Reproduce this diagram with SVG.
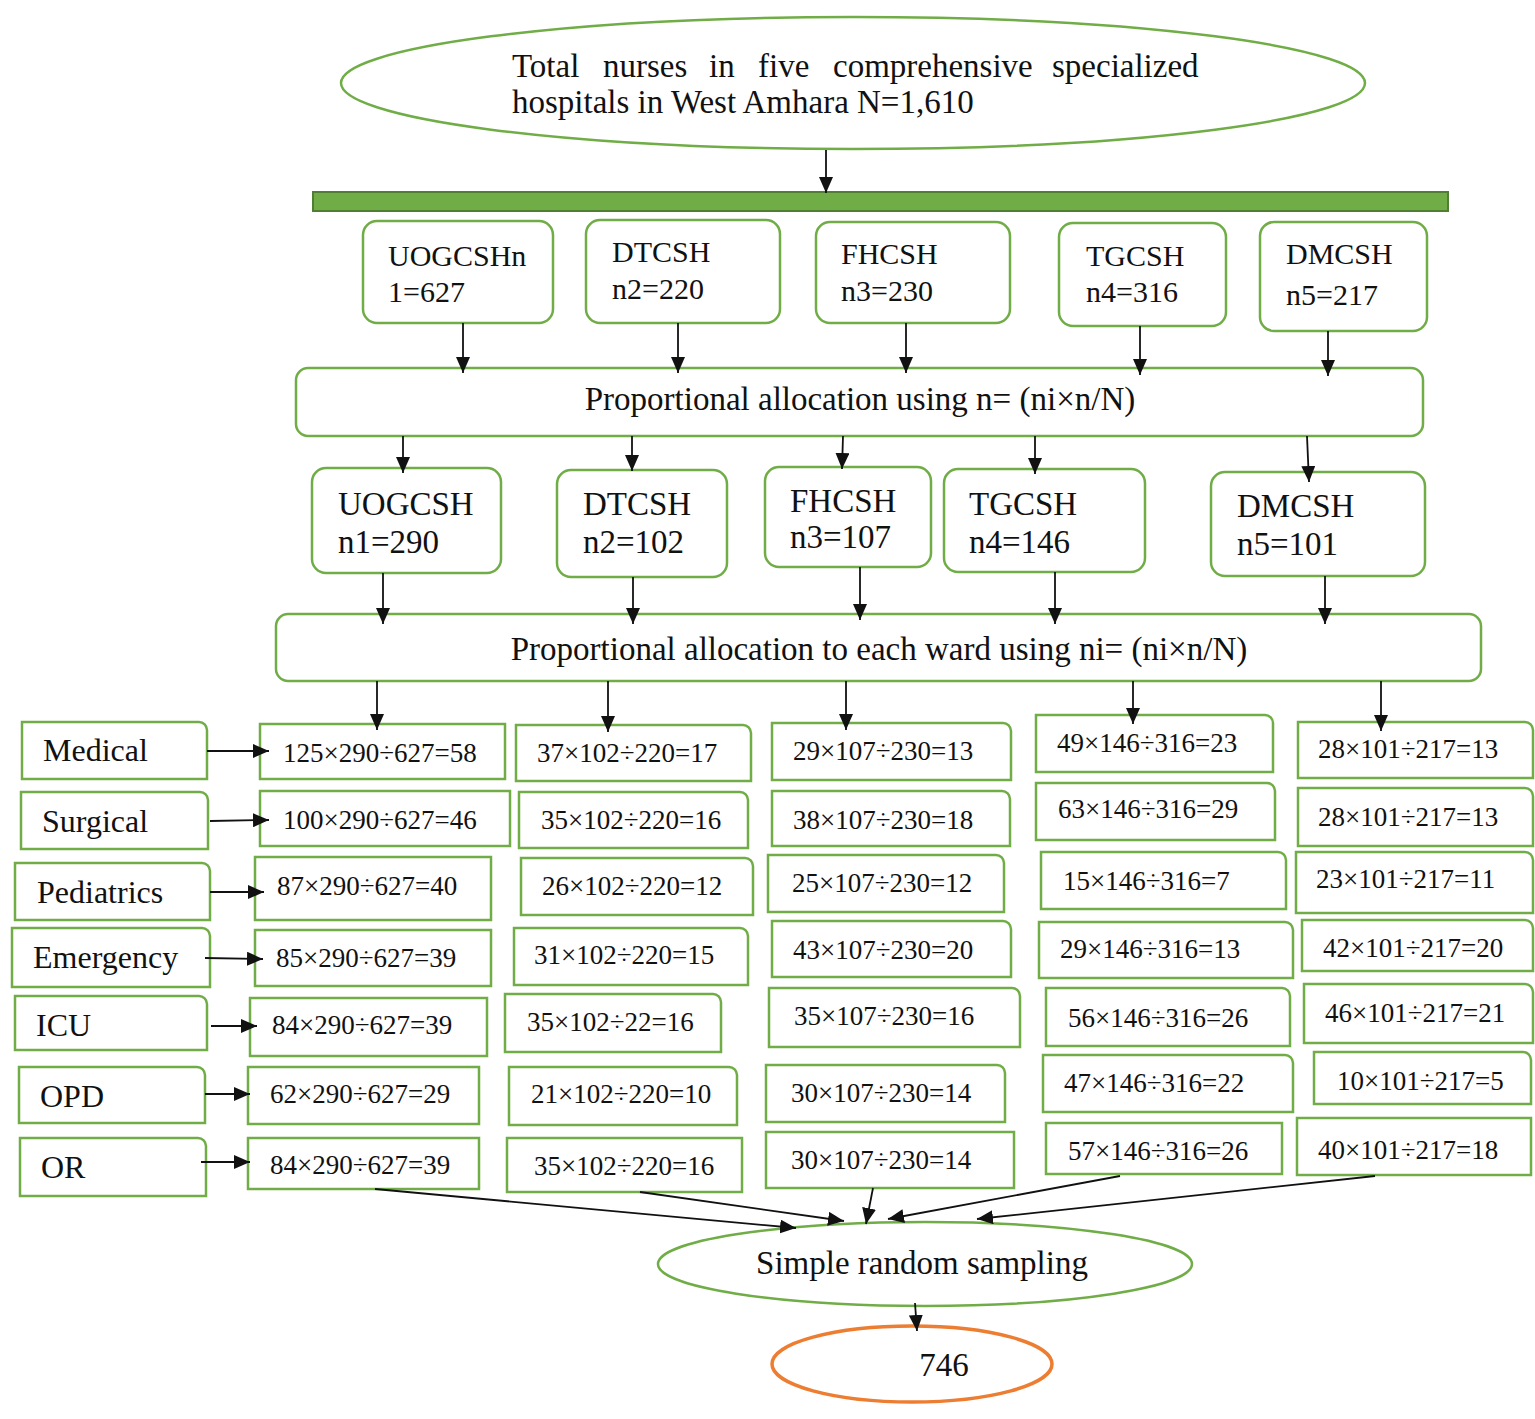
<svg xmlns="http://www.w3.org/2000/svg" width="1535" height="1419" viewBox="0 0 1535 1419">
<defs>
<marker id="ah" markerUnits="userSpaceOnUse" markerWidth="16" markerHeight="14" refX="16" refY="7" orient="auto">
<path d="M0,0 L16,7 L0,14 Z" fill="#111"/>
</marker>
<style>
.t{font-family:"Liberation Serif","Times New Roman",serif;fill:#111}
.big{font-size:33px}
.h1{font-size:30px}
.h2{font-size:33px}
.w{font-size:32px}
.v{font-size:27px}
.g{fill:#fff;stroke:#70AD47;stroke-width:2.5}
.c{fill:none;stroke:#111;stroke-width:1.8;marker-end:url(#ah)}
</style>
</defs>
<rect width="1535" height="1419" fill="#fff"/>

<g id="top">
<ellipse class="g" cx="853" cy="83" rx="512" ry="66" stroke-width="2"/>
<text class="t big" y="77"><tspan x="512">Total</tspan><tspan x="603">nurses</tspan><tspan x="709">in</tspan><tspan x="758">five</tspan><tspan x="833">comprehensive</tspan><tspan x="1052">specialized</tspan></text>
<text class="t big" x="512" y="113">hospitals in West Amhara N=1,610</text>
</g>

<g id="bar">
<rect x="313" y="192" width="1135" height="19" fill="#70AD47" stroke="#507E32" stroke-width="2"/>
</g>

<g id="h1a"><rect class="g" x="363" y="221" width="190" height="102" rx="14"/><text class="t h1" x="388" y="266">UOGCSHn</text><text class="t h1" x="388" y="302">1=627</text></g>
<g id="h1b"><rect class="g" x="586" y="220" width="194" height="103" rx="14"/><text class="t h1" x="612" y="262">DTCSH</text><text class="t h1" x="612" y="299">n2=220</text></g>
<g id="h1c"><rect class="g" x="816" y="222" width="194" height="101" rx="14"/><text class="t h1" x="841" y="264">FHCSH</text><text class="t h1" x="841" y="301">n3=230</text></g>
<g id="h1d"><rect class="g" x="1059" y="223" width="167" height="103" rx="14"/><text class="t h1" x="1086" y="266">TGCSH</text><text class="t h1" x="1086" y="302">n4=316</text></g>
<g id="h1e"><rect class="g" x="1260" y="222" width="167" height="109" rx="14"/><text class="t h1" x="1286" y="264">DMCSH</text><text class="t h1" x="1286" y="305">n5=217</text></g>

<g id="prop1"><rect class="g" x="296" y="368" width="1127" height="68" rx="12"/><text class="t big" x="860" y="410" text-anchor="middle">Proportional allocation using n= (ni×n/N)</text></g>

<g id="h2a"><rect class="g" x="312" y="468" width="189" height="105" rx="14"/><text class="t h2" x="338" y="515">UOGCSH</text><text class="t h2" x="338" y="553">n1=290</text></g>
<g id="h2b"><rect class="g" x="557" y="470" width="170" height="107" rx="14"/><text class="t h2" x="583" y="515">DTCSH</text><text class="t h2" x="583" y="553">n2=102</text></g>
<g id="h2c"><rect class="g" x="765" y="467" width="166" height="100" rx="14"/><text class="t h2" x="790" y="512">FHCSH</text><text class="t h2" x="790" y="548">n3=107</text></g>
<g id="h2d"><rect class="g" x="944" y="469" width="201" height="103" rx="14"/><text class="t h2" x="969" y="515">TGCSH</text><text class="t h2" x="969" y="553">n4=146</text></g>
<g id="h2e"><rect class="g" x="1211" y="472" width="214" height="104" rx="14"/><text class="t h2" x="1237" y="517">DMCSH</text><text class="t h2" x="1237" y="555">n5=101</text></g>

<g id="prop2"><rect class="g" x="276" y="614" width="1205" height="67" rx="12"/><text class="t big" x="879" y="660" text-anchor="middle">Proportional allocation to each ward using ni= (ni×n/N)</text></g>

<g id="wards">
<g id="w-medical"><path class="g" d="M22,722 H199 A8,8 0 0 1 207,730 V779 H22 Z"/><text class="t w" x="43" y="761">Medical</text></g>
<g id="w-surgical"><path class="g" d="M21,792 H200 A8,8 0 0 1 208,800 V849 H21 Z"/><text class="t w" x="42" y="832">Surgical</text></g>
<g id="w-pediatrics"><path class="g" d="M15,863 H202 A8,8 0 0 1 210,871 V920 H15 Z"/><text class="t w" x="37" y="903">Pediatrics</text></g>
<g id="w-emergency"><path class="g" d="M12,928 H202 A8,8 0 0 1 210,936 V987 H12 Z"/><text class="t w" x="33" y="968">Emergency</text></g>
<g id="w-icu"><path class="g" d="M15,996 H199 A8,8 0 0 1 207,1004 V1050 H15 Z"/><text class="t w" x="36" y="1036">ICU</text></g>
<g id="w-opd"><path class="g" d="M19,1067 H197 A8,8 0 0 1 205,1075 V1123 H19 Z"/><text class="t w" x="40" y="1107">OPD</text></g>
<g id="w-or"><path class="g" d="M20,1138 H198 A8,8 0 0 1 206,1146 V1196 H20 Z"/><text class="t w" x="41" y="1178">OR</text></g>
</g>

<g id="col1">
<g id="c1r1"><rect class="g" x="260" y="724" width="245" height="55"/><text class="t v" x="283" y="762">125×290÷627=58</text></g>
<g id="c1r2"><rect class="g" x="260" y="791" width="250" height="55"/><text class="t v" x="283" y="829">100×290÷627=46</text></g>
<g id="c1r3"><rect class="g" x="255" y="857" width="236" height="63"/><text class="t v" x="277" y="895">87×290÷627=40</text></g>
<g id="c1r4"><rect class="g" x="255" y="930" width="236" height="56"/><text class="t v" x="276" y="967">85×290÷627=39</text></g>
<g id="c1r5"><rect class="g" x="250" y="998" width="237" height="58"/><text class="t v" x="272" y="1034">84×290÷627=39</text></g>
<g id="c1r6"><rect class="g" x="248" y="1067" width="231" height="57"/><text class="t v" x="270" y="1103">62×290÷627=29</text></g>
<g id="c1r7"><rect class="g" x="248" y="1138" width="231" height="51"/><text class="t v" x="270" y="1174">84×290÷627=39</text></g>
</g>

<g id="col2">
<g id="c2r1"><path class="g" d="M516,725 H743 A8,8 0 0 1 751,733 V781 H516 Z"/><text class="t v" x="537" y="762">37×102÷220=17</text></g>
<g id="c2r2"><path class="g" d="M519,792 H740 A8,8 0 0 1 748,800 V848 H519 Z"/><text class="t v" x="541" y="829">35×102÷220=16</text></g>
<g id="c2r3"><path class="g" d="M521,858 H745 A8,8 0 0 1 753,866 V915 H521 Z"/><text class="t v" x="542" y="895">26×102÷220=12</text></g>
<g id="c2r4"><path class="g" d="M514,928 H740 A8,8 0 0 1 748,936 V985 H514 Z"/><text class="t v" x="534" y="964">31×102÷220=15</text></g>
<g id="c2r5"><path class="g" d="M505,994 H713 A8,8 0 0 1 721,1002 V1052 H505 Z"/><text class="t v" x="527" y="1031">35×102÷22=16</text></g>
<g id="c2r6"><path class="g" d="M509,1067 H729 A8,8 0 0 1 737,1075 V1125 H509 Z"/><text class="t v" x="531" y="1103">21×102÷220=10</text></g>
<g id="c2r7"><rect class="g" x="507" y="1138" width="235" height="54"/><text class="t v" x="534" y="1175">35×102÷220=16</text></g>
</g>

<g id="col3">
<g id="c3r1"><path class="g" d="M772,723 H1003 A8,8 0 0 1 1011,731 V780 H772 Z"/><text class="t v" x="793" y="760">29×107÷230=13</text></g>
<g id="c3r2"><path class="g" d="M772,791 H1002 A8,8 0 0 1 1010,799 V846 H772 Z"/><text class="t v" x="793" y="829">38×107÷230=18</text></g>
<g id="c3r3"><path class="g" d="M768,855 H996 A8,8 0 0 1 1004,863 V912 H768 Z"/><text class="t v" x="792" y="892">25×107÷230=12</text></g>
<g id="c3r4"><path class="g" d="M772,921 H1003 A8,8 0 0 1 1011,929 V977 H772 Z"/><text class="t v" x="793" y="959">43×107÷230=20</text></g>
<g id="c3r5"><path class="g" d="M769,988 H1012 A8,8 0 0 1 1020,996 V1047 H769 Z"/><text class="t v" x="794" y="1025">35×107÷230=16</text></g>
<g id="c3r6"><path class="g" d="M766,1065 H997 A8,8 0 0 1 1005,1073 V1122 H766 Z"/><text class="t v" x="791" y="1102">30×107÷230=14</text></g>
<g id="c3r7"><rect class="g" x="766" y="1132" width="248" height="56"/><text class="t v" x="791" y="1169">30×107÷230=14</text></g>
</g>

<g id="col4">
<g id="c4r1"><path class="g" d="M1036,715 H1265 A8,8 0 0 1 1273,723 V772 H1036 Z"/><text class="t v" x="1057" y="752">49×146÷316=23</text></g>
<g id="c4r2"><path class="g" d="M1036,783 H1267 A8,8 0 0 1 1275,791 V840 H1036 Z"/><text class="t v" x="1058" y="818">63×146÷316=29</text></g>
<g id="c4r3"><path class="g" d="M1041,852 H1278 A8,8 0 0 1 1286,860 V909 H1041 Z"/><text class="t v" x="1063" y="890">15×146÷316=7</text></g>
<g id="c4r4"><path class="g" d="M1039,922 H1285 A8,8 0 0 1 1293,930 V978 H1039 Z"/><text class="t v" x="1060" y="958">29×146÷316=13</text></g>
<g id="c4r5"><path class="g" d="M1046,988 H1282 A8,8 0 0 1 1290,996 V1046 H1046 Z"/><text class="t v" x="1068" y="1027">56×146÷316=26</text></g>
<g id="c4r6"><path class="g" d="M1043,1055 H1285 A8,8 0 0 1 1293,1063 V1112 H1043 Z"/><text class="t v" x="1064" y="1092">47×146÷316=22</text></g>
<g id="c4r7"><rect class="g" x="1046" y="1123" width="236" height="51"/><text class="t v" x="1068" y="1160">57×146÷316=26</text></g>
</g>

<g id="col5">
<g id="c5r1"><path class="g" d="M1298,722 H1525 A8,8 0 0 1 1533,730 V778 H1298 Z"/><text class="t v" x="1318" y="758">28×101÷217=13</text></g>
<g id="c5r2"><path class="g" d="M1298,788 H1525 A8,8 0 0 1 1533,796 V846 H1298 Z"/><text class="t v" x="1318" y="826">28×101÷217=13</text></g>
<g id="c5r3"><path class="g" d="M1296,852 H1525 A8,8 0 0 1 1533,860 V913 H1296 Z"/><text class="t v" x="1316" y="888">23×101÷217=11</text></g>
<g id="c5r4"><path class="g" d="M1302,920 H1525 A8,8 0 0 1 1533,928 V971 H1302 Z"/><text class="t v" x="1323" y="957">42×101÷217=20</text></g>
<g id="c5r5"><path class="g" d="M1304,984 H1525 A8,8 0 0 1 1533,992 V1043 H1304 Z"/><text class="t v" x="1325" y="1022">46×101÷217=21</text></g>
<g id="c5r6"><path class="g" d="M1314,1052 H1523 A8,8 0 0 1 1531,1060 V1104 H1314 Z"/><text class="t v" x="1337" y="1090">10×101÷217=5</text></g>
<g id="c5r7"><rect class="g" x="1297" y="1118" width="234" height="57"/><text class="t v" x="1318" y="1159">40×101÷217=18</text></g>
</g>

<g id="srs"><ellipse class="g" cx="925" cy="1264" rx="267" ry="42" stroke-width="2"/><text class="t big" x="922" y="1274" text-anchor="middle">Simple random sampling</text></g>
<g id="final"><ellipse cx="912" cy="1364" rx="140" ry="38" fill="#fff" stroke="#ED7D31" stroke-width="3.5"/><text class="t h2" x="944" y="1376" text-anchor="middle">746</text></g>

<g id="connectors">
<line class="c" x1="826" y1="150" x2="826" y2="193"/>
<line class="c" x1="463" y1="323" x2="463" y2="373"/>
<line class="c" x1="678" y1="323" x2="678" y2="373"/>
<line class="c" x1="906" y1="323" x2="906" y2="373"/>
<line class="c" x1="1140" y1="326" x2="1140" y2="375"/>
<line class="c" x1="1328" y1="331" x2="1328" y2="376"/>
<line class="c" x1="403" y1="436" x2="403" y2="473"/>
<line class="c" x1="632" y1="436" x2="632" y2="471"/>
<line class="c" x1="843" y1="436" x2="842" y2="469"/>
<line class="c" x1="1035" y1="436" x2="1035" y2="474"/>
<line class="c" x1="1307" y1="436" x2="1309" y2="482"/>
<line class="c" x1="383" y1="573" x2="383" y2="624"/>
<line class="c" x1="633" y1="577" x2="633" y2="624"/>
<line class="c" x1="860" y1="567" x2="860" y2="620"/>
<line class="c" x1="1055" y1="572" x2="1055" y2="624"/>
<line class="c" x1="1325" y1="576" x2="1325" y2="624"/>
<line class="c" x1="377" y1="681" x2="377" y2="730"/>
<line class="c" x1="608" y1="681" x2="608" y2="732"/>
<line class="c" x1="846" y1="681" x2="846" y2="730"/>
<line class="c" x1="1133" y1="681" x2="1133" y2="724"/>
<line class="c" x1="1381" y1="681" x2="1381" y2="731"/>
<line class="c" x1="207" y1="751" x2="269" y2="751"/>
<line class="c" x1="210" y1="821" x2="269" y2="820"/>
<line class="c" x1="210" y1="892" x2="264" y2="892"/>
<line class="c" x1="205" y1="958" x2="263" y2="959"/>
<line class="c" x1="211" y1="1026" x2="257" y2="1026"/>
<line class="c" x1="205" y1="1094" x2="250" y2="1094"/>
<line class="c" x1="201" y1="1162" x2="250" y2="1162"/>
<line class="c" x1="375" y1="1189" x2="796" y2="1228"/>
<line class="c" x1="640" y1="1192" x2="844" y2="1221"/>
<line class="c" x1="873" y1="1188" x2="866" y2="1224"/>
<line class="c" x1="1120" y1="1176" x2="888" y2="1219"/>
<line class="c" x1="1375" y1="1176" x2="977" y2="1219"/>
<line class="c" x1="915" y1="1303" x2="917" y2="1331"/>
</g>
</svg>
